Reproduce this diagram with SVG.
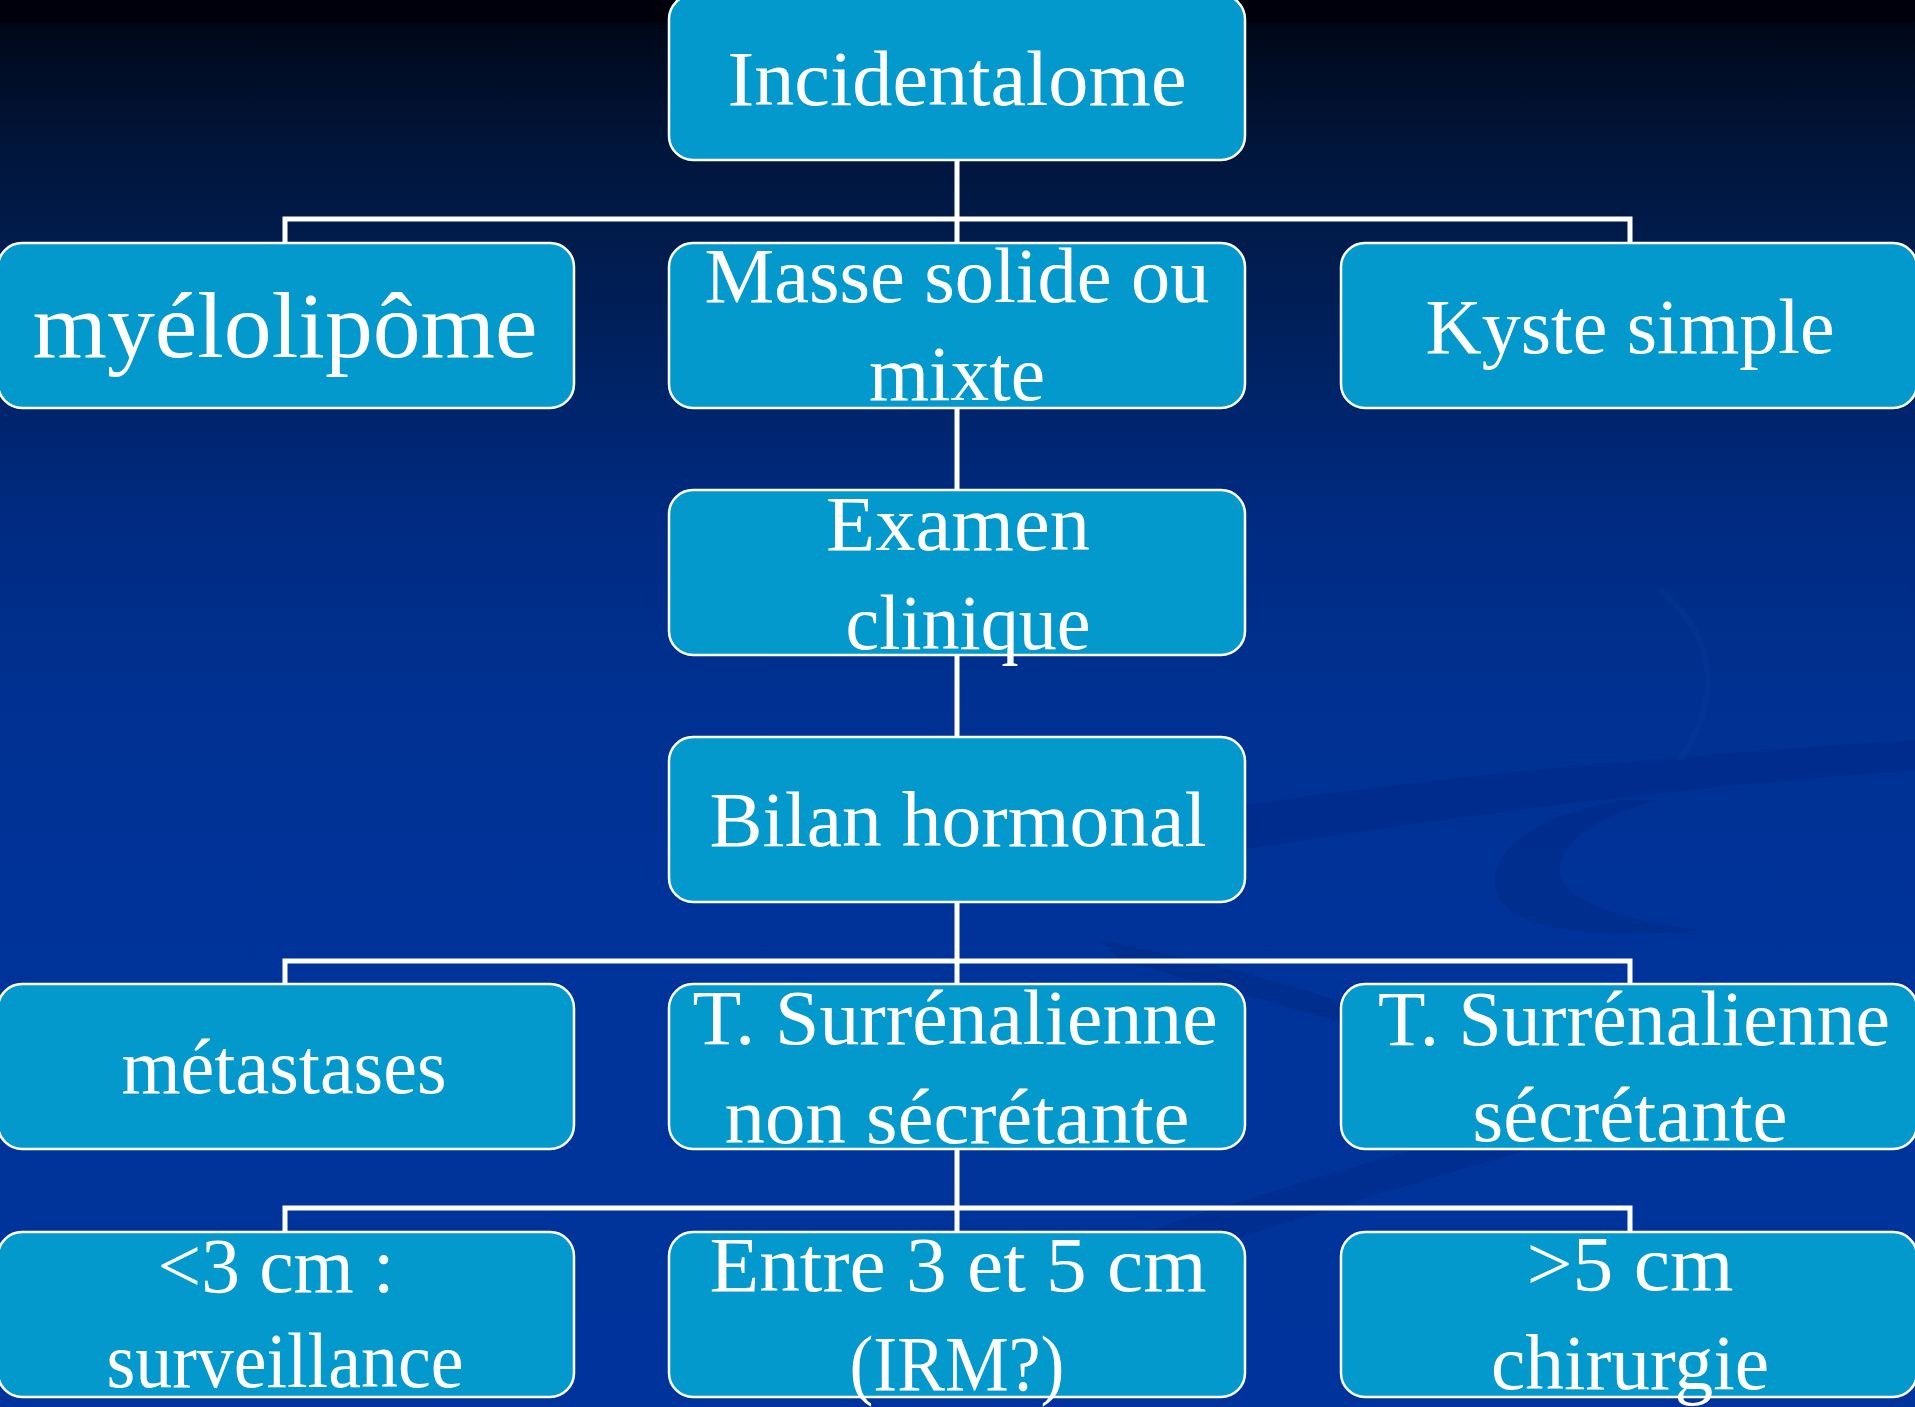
<svg xmlns="http://www.w3.org/2000/svg" width="1915" height="1407" viewBox="0 0 1915 1407">
<defs>
<linearGradient id="bg" x1="0" y1="0" x2="0" y2="1">
<stop offset="0" stop-color="#00000c"/>
<stop offset="0.014" stop-color="#00000c"/>
<stop offset="0.018" stop-color="#000818"/>
<stop offset="0.1" stop-color="#01153a"/>
<stop offset="0.22" stop-color="#001f58"/>
<stop offset="0.36" stop-color="#002a80"/>
<stop offset="0.5" stop-color="#003192"/>
<stop offset="0.65" stop-color="#003399"/>
<stop offset="1" stop-color="#00349c"/>
</linearGradient>
<style>
.box{fill:#0399cc;stroke:#ffffff;stroke-width:2.5}
.t{font-family:"Liberation Serif","DejaVu Serif",serif;fill:#ffffff;text-anchor:middle;font-size:79px}
.big{font-size:93px}
.con{stroke:#ffffff;stroke-width:5;fill:none}
.sw{fill:#002a86;opacity:0.55}
</style>
</defs>
<rect x="0" y="0" width="1915" height="1407" fill="url(#bg)"/>
<g id="background-swirls">
<path class="sw" d="M1100 830 C1300 790 1600 760 1915 740 L1915 770 C1650 790 1420 820 1180 860 Z"/>
<path class="sw" d="M1620 800 C1520 820 1480 860 1500 900 C1520 930 1600 940 1700 930 C1620 920 1560 900 1560 870 C1560 840 1600 815 1660 800 Z"/>
<path class="sw" d="M1150 1230 C1400 1150 1650 1080 1915 1020 L1915 1050 C1650 1110 1420 1180 1200 1250 Z"/>
<path class="sw" d="M1100 940 C1300 980 1480 1040 1600 1110 C1480 1060 1300 1010 1120 960 Z" opacity="0.35"/>
<path d="M1660 590 C1720 640 1720 700 1680 760" stroke="#0d3ea0" stroke-width="6" fill="none" opacity="0.25"/>
</g>
<g id="connectors">
<path class="con" d="M957 160 V243 M285 243 V219 H1630 V243"/>
<path class="con" d="M957 408 V490"/>
<path class="con" d="M957 655 V737"/>
<path class="con" d="M957 902 V984 M285 984 V961 H1630 V984"/>
<path class="con" d="M957 1149 V1232 M285 1232 V1208 H1630 V1232"/>
</g>
<g id="n-incidentalome">
<rect class="box" x="669" y="-5" width="576" height="165" rx="24"/>
<text class="t" x="957" y="105" textLength="459" lengthAdjust="spacingAndGlyphs">Incidentalome</text>
</g>
<g id="n-myelolipome">
<rect class="box" x="-2" y="243" width="576" height="165" rx="24"/>
<text class="t big" x="285" y="357" textLength="505" lengthAdjust="spacingAndGlyphs">myélolipôme</text>
</g>
<g id="n-masse">
<rect class="box" x="669" y="243" width="576" height="165" rx="24"/>
<text class="t" x="957" y="302" textLength="505" lengthAdjust="spacingAndGlyphs">Masse solide ou</text>
<text class="t" x="957" y="400" textLength="176" lengthAdjust="spacingAndGlyphs">mixte</text>
</g>
<g id="n-kyste">
<rect class="box" x="1341" y="243" width="576" height="165" rx="24"/>
<text class="t" x="1630" y="353" textLength="409" lengthAdjust="spacingAndGlyphs">Kyste simple</text>
</g>
<g id="n-examen">
<rect class="box" x="669" y="490" width="576" height="165" rx="24"/>
<text class="t" x="958" y="550" textLength="264" lengthAdjust="spacingAndGlyphs">Examen</text>
<text class="t" x="968" y="649" textLength="245" lengthAdjust="spacingAndGlyphs">clinique</text>
</g>
<g id="n-bilan">
<rect class="box" x="669" y="737" width="576" height="165" rx="24"/>
<text class="t" x="958" y="846" textLength="497" lengthAdjust="spacingAndGlyphs">Bilan hormonal</text>
</g>
<g id="n-metastases">
<rect class="box" x="-2" y="984" width="576" height="165" rx="24"/>
<text class="t" x="284" y="1093" textLength="325" lengthAdjust="spacingAndGlyphs">métastases</text>
</g>
<g id="n-non-secretante">
<rect class="box" x="669" y="984" width="576" height="165" rx="24"/>
<text class="t" x="955" y="1044" textLength="525" lengthAdjust="spacingAndGlyphs">T. Surrénalienne</text>
<text class="t" x="957" y="1143" textLength="465" lengthAdjust="spacingAndGlyphs">non sécrétante</text>
</g>
<g id="n-secretante">
<rect class="box" x="1341" y="984" width="576" height="165" rx="24"/>
<text class="t" x="1634" y="1045" textLength="512" lengthAdjust="spacingAndGlyphs">T. Surrénalienne</text>
<text class="t" x="1630" y="1141" textLength="315" lengthAdjust="spacingAndGlyphs">sécrétante</text>
</g>
<g id="n-lt3">
<rect class="box" x="-2" y="1232" width="576" height="165" rx="24"/>
<text class="t" x="276" y="1292" textLength="237" lengthAdjust="spacingAndGlyphs">&lt;3 cm :</text>
<text class="t" x="285" y="1387" textLength="357" lengthAdjust="spacingAndGlyphs">surveillance</text>
</g>
<g id="n-3to5">
<rect class="box" x="669" y="1232" width="576" height="165" rx="24"/>
<text class="t" x="958" y="1291" textLength="497" lengthAdjust="spacingAndGlyphs">Entre 3 et 5 cm</text>
<text class="t" x="957" y="1390" textLength="215" lengthAdjust="spacingAndGlyphs">(IRM?)</text>
</g>
<g id="n-gt5">
<rect class="box" x="1341" y="1232" width="576" height="165" rx="24"/>
<text class="t" x="1630" y="1290" textLength="207" lengthAdjust="spacingAndGlyphs">&gt;5 cm</text>
<text class="t" x="1630" y="1389" textLength="278" lengthAdjust="spacingAndGlyphs">chirurgie</text>
</g>
</svg>
